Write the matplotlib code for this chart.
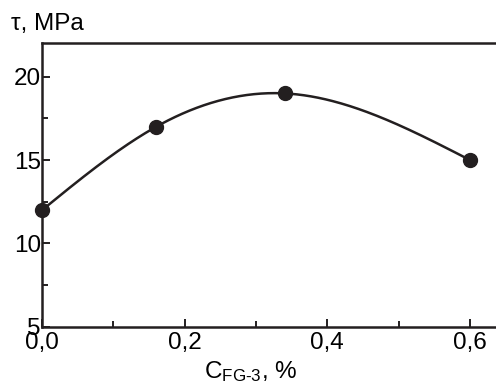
import numpy as np
import matplotlib.pyplot as plt
from matplotlib.ticker import MultipleLocator, FixedLocator

plt.rcParams['font.family'] = ['Liberation Sans', 'DejaVu Sans']
plt.rcParams['mathtext.fontset'] = 'custom'
plt.rcParams['mathtext.rm'] = 'Liberation Sans'
plt.rcParams['mathtext.it'] = 'Liberation Sans'

# concentration of FG-3, %  and shear strength, MPa
conc = [0.0, 0.16, 0.34, 0.6]
tau = [12.0, 17.0, 19.0, 15.0]
x_ticks = [0.0, 0.2, 0.4, 0.6]
x_tick_labels = ['0,0', '0,2', '0,4', '0,6']
y_ticks = [5, 10, 15, 20]


def natural_spline(x, y, xs):
    # natural cubic spline through the points, just for the smooth line
    x = np.asarray(x, float)
    y = np.asarray(y, float)
    n = len(x)
    h = np.diff(x)
    A = np.zeros((n, n))
    b = np.zeros(n)
    A[0, 0] = A[-1, -1] = 1
    for i in range(1, n - 1):
        A[i, i - 1] = h[i - 1]
        A[i, i] = 2 * (h[i - 1] + h[i])
        A[i, i + 1] = h[i]
        b[i] = 6 * ((y[i + 1] - y[i]) / h[i] - (y[i] - y[i - 1]) / h[i - 1])
    M = np.linalg.solve(A, b)
    k = np.clip(np.searchsorted(x, xs) - 1, 0, n - 2)
    t1 = x[k + 1] - xs
    t0 = xs - x[k]
    hk = h[k]
    return (M[k] * t1**3 / (6 * hk) + M[k + 1] * t0**3 / (6 * hk)
            + (y[k] / hk - M[k] * hk / 6) * t1
            + (y[k + 1] / hk - M[k + 1] * hk / 6) * t0)


fig = plt.figure(figsize=(4.96, 3.91), dpi=100)
ax = fig.add_axes([0.085, 0.1645, 0.915, 0.7245])

xs = np.linspace(conc[0], conc[-1], 300)
ax.plot(xs, natural_spline(conc, tau, xs), color='#231f20', lw=1.8, clip_on=False)
ax.plot(conc, tau, 'o', color='#231f20', ms=10, clip_on=False, zorder=3)

ax.set_xlim(0, 0.6365)
ax.set_ylim(5, 22)
ax.xaxis.set_major_locator(FixedLocator(x_ticks))
ax.set_xticklabels(x_tick_labels)
ax.xaxis.set_minor_locator(MultipleLocator(0.1))
ax.yaxis.set_major_locator(FixedLocator(y_ticks))
ax.yaxis.set_minor_locator(MultipleLocator(2.5))

ax.tick_params(which='both', direction='in', labelsize=17.5, color='#231f20',
               width=1.4)
ax.tick_params(which='major', length=6)
ax.tick_params(which='minor', length=4)
ax.tick_params(axis='x', pad=4)
ax.tick_params(axis='y', pad=1)

for s in ['left', 'bottom', 'top']:
    ax.spines[s].set_linewidth(1.8)
    ax.spines[s].set_color('#231f20')
ax.spines['right'].set_visible(False)

fig.text(0.022, 0.923, 'τ, MPa', fontsize=17.5, va='baseline', ha='left')
fig.text(0.506, 0.033, r'C$_{\mathrm{FG}\text{-}3}$, %', fontsize=17.5,
         va='baseline', ha='center')

fig.savefig('out.png', dpi=100)
